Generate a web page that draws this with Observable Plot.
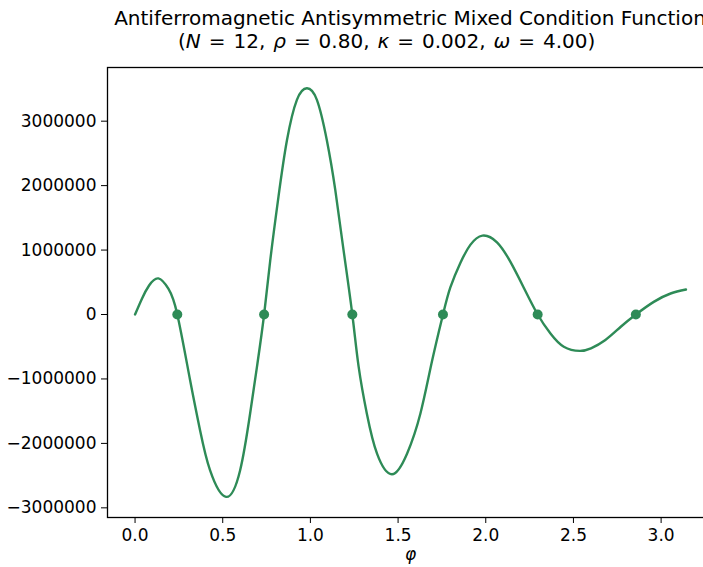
<!DOCTYPE html>
<html>
<head>
<meta charset="utf-8">
<script src="https://cdn.jsdelivr.net/npm/d3@7"></script>
<script src="https://cdn.jsdelivr.net/npm/@observablehq/plot@0.6"></script>
<style>
  html, body { margin: 0; padding: 0; background: #fff; width: 703px; height: 567px; overflow: hidden; }
  #wrap { position: relative; width: 720px; font-family: "DejaVu Sans", sans-serif; color: #000; }
  .t { position: absolute; font-size: 20px; line-height: 23px; white-space: nowrap; }
  #t1 { left: 107px; width: 606px; top: 7px; text-align: center; }
  #t2 { left: 178px; top: 30px; word-spacing: 1.6px; }
  .t i { font-style: italic; }
  #chart { position: absolute; left: 0; top: 57px; }
</style>
</head>
<body>
<div id="wrap">
  <div class="t" id="t1">Antiferromagnetic Antisymmetric Mixed Condition Function</div>
  <div class="t" id="t2">(<i>N</i> = 12, <i>ρ</i> = 0.80, <i>κ</i> = 0.002, <i>ω</i> = 4.00)</div>
  <div id="chart"></div>
</div>
<script>
// φ values
const phi = [0, 0.04, 0.08, 0.133, 0.19, 0.241, 0.314, 0.371, 0.428, 0.519, 0.599, 0.656, 0.698, 0.736,
  0.771, 0.818, 0.866, 0.923, 0.980, 1.037, 1.094, 1.142, 1.189, 1.239,
  1.275, 1.322, 1.380, 1.465, 1.551, 1.627, 1.693, 1.756,
  1.798, 1.855, 1.912, 1.981, 2.064, 2.140, 2.216, 2.296,
  2.369, 2.445, 2.536, 2.600, 2.680, 2.770, 2.856, 2.958, 3.054, 3.1416];
// function values
const values = [0, 250000, 450000, 560000, 400000, 0, -1020000, -1800000, -2420000, -2830000, -2420000, -1540000, -760000, 0,
  840000, 1830000, 2700000, 3330000, 3510000, 3330000, 2700000, 1930000, 1000000, 0,
  -810000, -1540000, -2160000, -2480000, -2160000, -1540000, -730000, 0,
  420000, 800000, 1080000, 1225000, 1120000, 820000, 420000, 0,
  -295000, -500000, -565000, -525000, -400000, -190000, 0, 196000, 326000, 388000];
// zero crossings marked by dots
const zeros = [0.241, 0.736, 1.239, 1.756, 2.296, 2.856];
const xTicks = [0, 0.5, 1.0, 1.5, 2.0, 2.5, 3.0];
const yTicks = [-3000000, -2000000, -1000000, 0, 1000000, 2000000, 3000000];

const curve = phi.map((p, i) => ({phi: p, v: values[i]}));
const color = "#2e8b57";

const plot = Plot.plot({
  width: 720,
  height: 510,
  marginLeft: 107,
  marginRight: 7,
  marginTop: 10,
  marginBottom: 50,
  style: {fontFamily: "DejaVu Sans, sans-serif", fontSize: "17px", color: "#000", background: "#fff", overflow: "visible"},
  x: {domain: [-0.1571, 3.2987]},
  y: {domain: [-3150000, 3833000]},
  marks: [
    Plot.axisY({ticks: yTicks, tickSize: 6, tickPadding: 5, label: null,
      tickFormat: d => d < 0 ? "\u2212" + Math.abs(d) : String(d), fontSize: 17}),
    Plot.axisX({ticks: xTicks, tickSize: 6, tickPadding: 5, label: null,
      tickFormat: d3.format(".1f"), fontSize: 17}),
    Plot.line(curve, {x: "phi", y: "v", stroke: color, strokeWidth: 2.4, curve: "natural"}),
    Plot.dot(zeros, {x: d => d, y: () => 0, r: 5, fill: color, stroke: "none"}),
    Plot.frame({stroke: "#000", strokeWidth: 1.3}),
    Plot.text(["φ"], {frameAnchor: "bottom", dy: 42, fontSize: 17, fontStyle: "italic", fill: "#000"})
  ]
});
document.getElementById("chart").appendChild(plot);
</script>
</body>
</html>
